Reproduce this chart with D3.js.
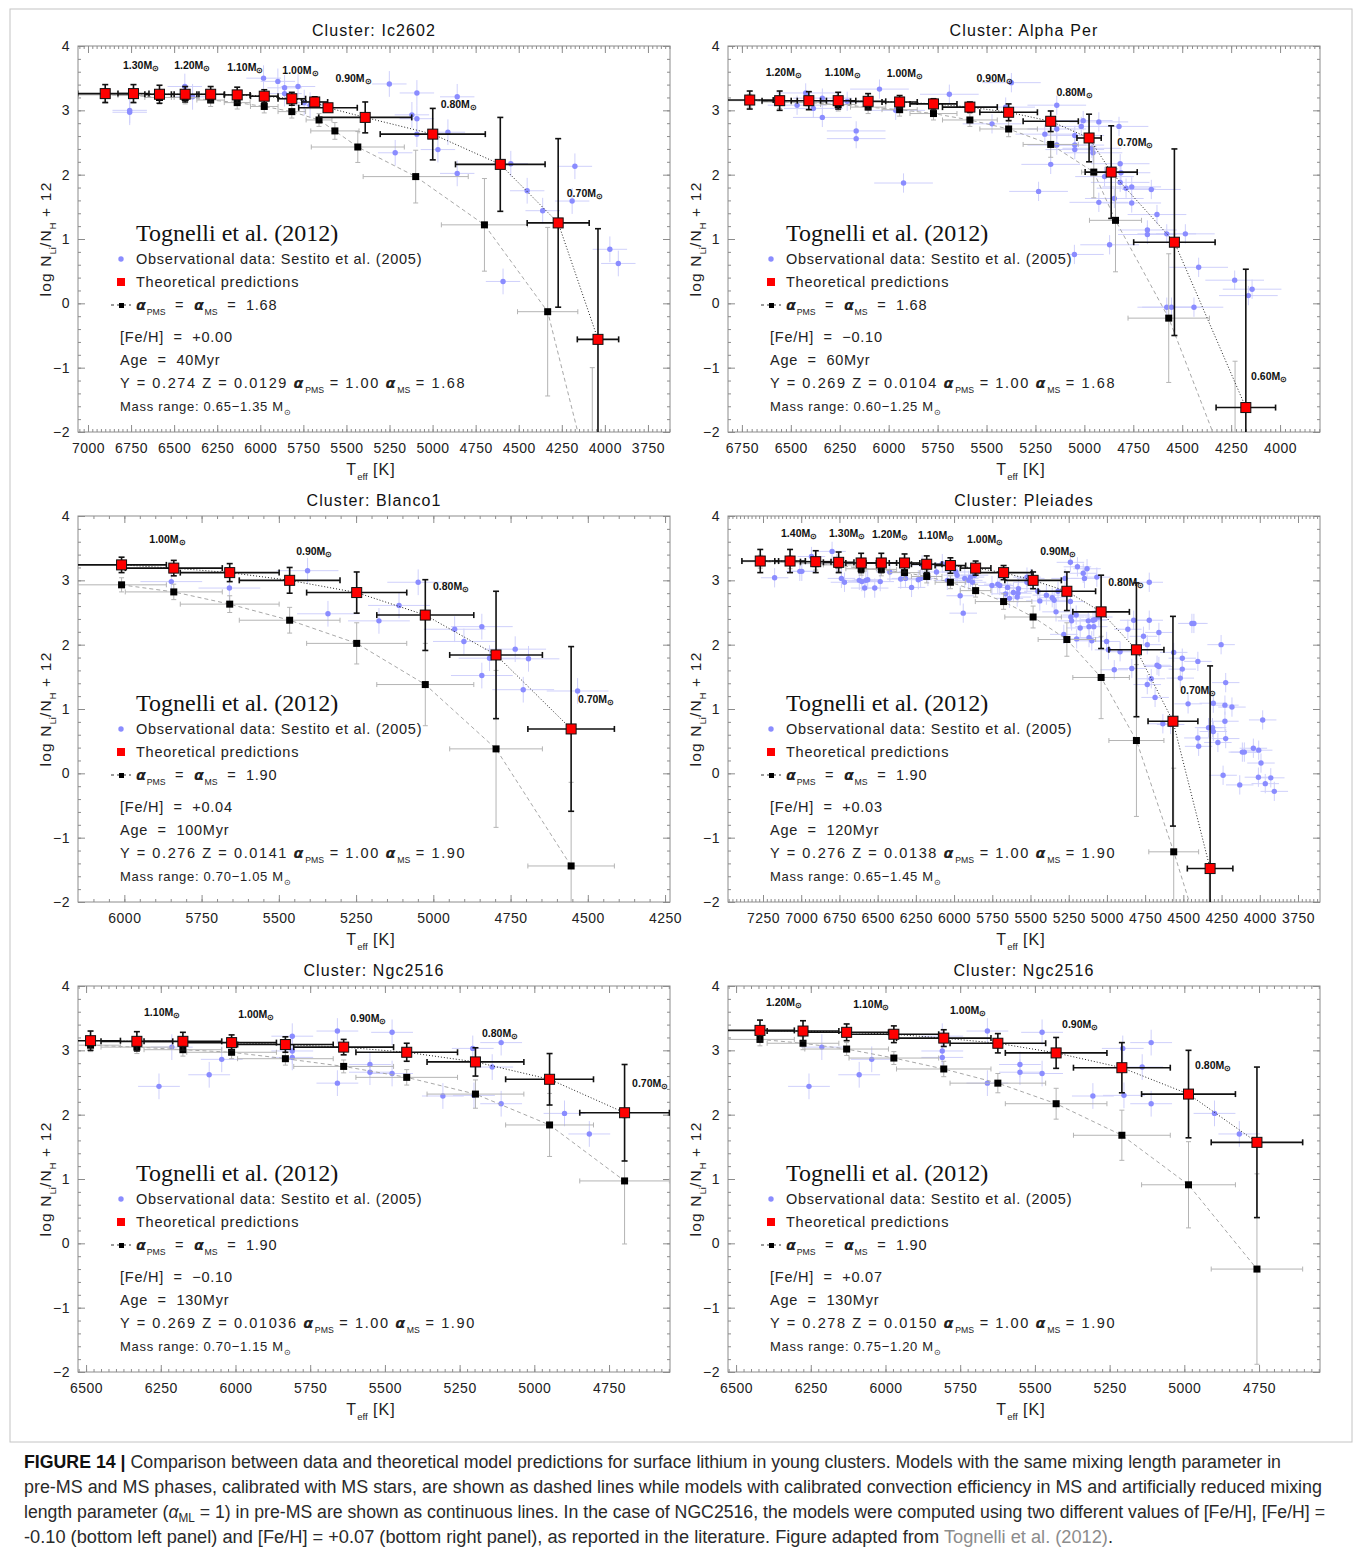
<!DOCTYPE html>
<html>
<head>
<meta charset="utf-8">
<script src="https://cdn.jsdelivr.net/npm/d3@7"></script>
<style>
  body { margin: 0; background: #fff; }
  svg text { font-family: "Liberation Sans", Arial, sans-serif; white-space: pre; }
</style>
</head>
<body>
<svg width="1354" height="1552"></svg>
<script>
// ---- panel texts ----
const clusterNames = ['Cluster: Ic2602', 'Cluster: Alpha Per', 'Cluster: Blanco1', 'Cluster: Pleiades', 'Cluster: Ngc2516', 'Cluster: Ngc2516'];
const alphaMS = ['1.68', '1.68', '1.90', '1.90', '1.90', '1.90'];
const fehText = ['+0.00', '\u22120.10', '+0.04', '+0.03', '\u22120.10', '+0.07'];
const ageText = ['40Myr', '60Myr', '100Myr', '120Myr', '130Myr', '130Myr'];
const yText = ['0.274', '0.269', '0.276', '0.276', '0.269', '0.278'];
const zText = ['0.0129', '0.0104', '0.0141', '0.0138', '0.01036', '0.0150'];
const massRange = ['0.65\u22121.35', '0.60\u22121.25', '0.70\u22121.05', '0.65\u22121.45', '0.70\u22121.15', '0.75\u22121.20'];

// ---- axes ----
const ic2602Ticks = [7000, 6750, 6500, 6250, 6000, 5750, 5500, 5250, 5000, 4750, 4500, 4250, 4000, 3750];
const alphaPerTicks = [6750, 6500, 6250, 6000, 5750, 5500, 5250, 5000, 4750, 4500, 4250, 4000];
const blanco1Ticks = [6000, 5750, 5500, 5250, 5000, 4750, 4500, 4250];
const pleiadesTicks = [7250, 7000, 6750, 6500, 6250, 6000, 5750, 5500, 5250, 5000, 4750, 4500, 4250, 4000, 3750];
const ngcTicks = [6500, 6250, 6000, 5750, 5500, 5250, 5000, 4750];
const yTicks = [4, 3, 2, 1, 0, -1, -2];

// ---- model predictions: [Teff, logN, errTeff, errLogN] ----
const ic2602Red = [
  [6900, 3.26, 160, 0.14], [6736, 3.26, 90, 0.14], [6585, 3.25, 85, 0.14], [6436, 3.25, 80, 0.12],
  [6288, 3.25, 80, 0.12], [6134, 3.24, 75, 0.12], [5977, 3.22, 80, 0.1], [5817, 3.18, 80, 0.1],
  [5684, 3.13, 75, 0.08], [5607, 3.04, 170, 0.06], [5391, 2.89, 270, 0.24], [4999, 2.63, 305, 0.4],
  [4607, 2.16, 260, 0.73], [4271, 1.25, 180, 1.31], [4040, -0.56, 120, 1.72]
];
const ic2602Black = [
  [6900, 3.24, 160, 0.1], [6736, 3.23, 90, 0.1], [6585, 3.2, 85, 0.1], [6436, 3.2, 80, 0.1],
  [6288, 3.16, 80, 0.1], [6134, 3.12, 75, 0.1], [5977, 3.06, 80, 0.1], [5817, 2.98, 80, 0.1],
  [5659, 2.85, 75, 0.1], [5567, 2.68, 140, 0.13], [5434, 2.43, 270, 0.24], [5098, 1.97, 305, 0.41],
  [4699, 1.22, 250, 0.72], [4332, -0.13, 175, 1.31], [4073, -2.9, 120, 1.9]
];
const alphaPerRed = [
  [6710, 3.16, 120, 0.14], [6557, 3.15, 90, 0.15], [6408, 3.15, 90, 0.14], [6258, 3.15, 90, 0.13],
  [6105, 3.14, 90, 0.12], [5944, 3.13, 90, 0.1], [5771, 3.1, 120, 0.08], [5585, 3.05, 140, 0.08],
  [5387, 2.97, 147, 0.13], [5172, 2.83, 141, 0.16], [4976, 2.57, 62, 0.37], [4863, 2.04, 133, 0.72],
  [4540, 0.95, 208, 1.45], [4175, -1.62, 152, 2.15]
];
const alphaPerBlack = [
  [6710, 3.15, 120, 0.1], [6557, 3.13, 90, 0.1], [6408, 3.12, 90, 0.1], [6258, 3.09, 90, 0.1],
  [6105, 3.05, 90, 0.1], [5944, 3.01, 90, 0.1], [5771, 2.95, 120, 0.1], [5585, 2.85, 140, 0.1],
  [5387, 2.71, 147, 0.12], [5172, 2.47, 141, 0.2], [4952, 2.04, 62, 0.4], [4841, 1.29, 133, 0.8],
  [4569, -0.23, 208, 1.0], [4230, -2.9, 152, 2.0]
];
const blanco1Red = [
  [6009, 3.24, 145, 0.12], [5840, 3.19, 157, 0.12], [5659, 3.12, 160, 0.14], [5465, 3.0, 163, 0.2],
  [5248, 2.81, 162, 0.32], [5026, 2.46, 157, 0.55], [4797, 1.84, 150, 0.99], [4554, 0.69, 140, 1.28]
];
const blanco1Black = [
  [6009, 2.93, 145, 0.11], [5840, 2.82, 157, 0.12], [5659, 2.63, 160, 0.13], [5465, 2.38, 163, 0.2],
  [5248, 2.02, 162, 0.32], [5026, 1.38, 157, 0.64], [4797, 0.38, 150, 1.22], [4554, -1.44, 140, 1.3]
];
const pleiadesRed = [
  [7268, 3.3, 120, 0.18], [7073, 3.3, 100, 0.18], [6905, 3.29, 100, 0.17], [6755, 3.28, 100, 0.16],
  [6608, 3.27, 100, 0.15], [6476, 3.27, 100, 0.15], [6324, 3.27, 100, 0.14], [6179, 3.25, 100, 0.13],
  [6024, 3.23, 100, 0.12], [5859, 3.19, 100, 0.11], [5676, 3.12, 185, 0.11], [5483, 3.0, 185, 0.13],
  [5262, 2.83, 188, 0.3], [5038, 2.51, 185, 0.57], [4807, 1.92, 180, 1.04], [4568, 0.81, 163, 1.63],
  [4325, -1.48, 149, 3.15]
];
const pleiadesBlack = [
  [7268, 3.29, 120, 0.1], [7073, 3.28, 100, 0.1], [6905, 3.26, 100, 0.1], [6755, 3.24, 100, 0.1],
  [6608, 3.18, 100, 0.1], [6476, 3.17, 100, 0.1], [6324, 3.12, 100, 0.1], [6179, 3.06, 100, 0.1],
  [6024, 2.97, 100, 0.1], [5859, 2.84, 100, 0.1], [5676, 2.67, 185, 0.12], [5483, 2.43, 185, 0.17],
  [5262, 2.08, 188, 0.26], [5038, 1.49, 185, 0.64], [4807, 0.51, 180, 1.18], [4563, -1.22, 163, 1.3],
  [4330, -3.0, 149, 1.5]
];
const ngcLowRed = [
  [6485, 3.15, 100, 0.15], [6330, 3.14, 120, 0.15], [6176, 3.14, 130, 0.14], [6013, 3.12, 150, 0.12],
  [5833, 3.09, 160, 0.12], [5638, 3.05, 167, 0.12], [5427, 2.97, 170, 0.14], [5197, 2.82, 162, 0.22],
  [4949, 2.55, 147, 0.4], [4698, 2.03, 150, 0.75]
];
const ngcLowBlack = [
  [6485, 3.08, 100, 0.1], [6330, 3.05, 120, 0.1], [6176, 3.01, 130, 0.1], [6013, 2.97, 150, 0.1],
  [5833, 2.87, 160, 0.1], [5638, 2.75, 167, 0.1], [5427, 2.58, 170, 0.12], [5197, 2.32, 162, 0.22],
  [4949, 1.84, 147, 0.49], [4698, 0.97, 150, 0.98]
];
const ngcHighRed = [
  [6420, 3.31, 115, 0.16], [6276, 3.3, 120, 0.16], [6130, 3.28, 140, 0.13], [5972, 3.25, 150, 0.13],
  [5805, 3.19, 158, 0.13], [5624, 3.11, 160, 0.15], [5429, 2.96, 170, 0.24], [5209, 2.73, 162, 0.39],
  [4986, 2.32, 157, 0.68], [4757, 1.57, 153, 1.17]
];
const ngcHighBlack = [
  [6420, 3.17, 115, 0.1], [6276, 3.11, 120, 0.1], [6130, 3.02, 140, 0.1], [5972, 2.88, 150, 0.1],
  [5805, 2.71, 158, 0.12], [5624, 2.49, 160, 0.15], [5429, 2.17, 170, 0.24], [5209, 1.68, 162, 0.39],
  [4986, 0.91, 157, 0.67], [4757, -0.4, 153, 1.48]
];

// ---- observations (Sestito et al. 2005): [Teff, logN] ----
const ic2602Obs = [
  [6758, 2.97], [6758, 3.0], [6438, 3.37], [6393, 3.21], [5981, 3.5], [5898, 3.45], [5859, 3.35],
  [5859, 3.26], [5781, 3.37], [5745, 3.12], [5711, 3.08], [5251, 3.41], [5091, 3.27], [5120, 2.93],
  [5091, 2.87], [5091, 2.63], [4857, 3.21], [4911, 2.66], [4969, 2.39], [5217, 2.34], [4857, 2.02],
  [4546, 2.17], [4451, 1.75], [4361, 1.44], [4174, 2.13], [4190, 1.59], [4591, 0.34], [3971, 0.84],
  [3922, 0.62]
];
const alphaPerObs = [
  [6468, 3.08], [6424, 3.27], [6385, 3.03], [6339, 2.89], [6339, 3.19], [6265, 3.13], [6212, 3.14],
  [6166, 2.68], [6166, 2.56], [6047, 3.33], [5964, 3.0], [5924, 1.87], [5690, 3.25], [5472, 2.79],
  [5402, 3.05], [5373, 3.43], [5234, 1.74], [5202, 2.63], [5172, 2.16], [5141, 3.08], [5141, 2.71],
  [5141, 2.46], [5049, 2.61], [5049, 2.46], [5049, 2.39], [5016, 2.75], [5006, 2.84], [4962, 2.41],
  [4956, 2.34], [4926, 2.82], [4926, 1.57], [4897, 1.97], [4871, 0.91], [4847, 1.63], [4823, 2.75],
  [4817, 2.17], [4813, 2.03], [4817, 1.88], [4787, 1.79], [4758, 1.81], [4758, 1.56], [4658, 1.77],
  [4629, 1.38], [4678, 1.14], [4678, 1.07], [4579, 1.08], [4484, 1.08], [4416, 0.56], [4579, -0.06],
  [4555, -0.06], [4440, -0.06], [4232, 0.36], [4162, 0.12], [4143, 0.22], [5051, 0.76]
];
const blanco1Obs = [
  [5848, 2.98], [5660, 2.88], [5407, 3.15], [5341, 2.48], [5176, 2.37], [5111, 2.61], [5049, 2.97],
  [4931, 2.24], [4901, 2.05], [4843, 2.28], [4843, 1.52], [4818, 1.79], [4735, 1.93], [4692, 1.78],
  [4709, 1.3], [4533, 1.28]
];
const pleiadesObs = [
  [7174, 3.04], [7009, 3.14], [6996, 3.14], [6933, 3.37], [6907, 3.26], [6798, 3.45], [6768, 3.26],
  [6737, 3.03], [6717, 2.97], [6620, 3.0], [6603, 2.98], [6585, 2.88], [6577, 3.0], [6565, 3.01],
  [6519, 2.88], [6483, 2.98], [6420, 3.13], [6349, 3.02], [6318, 3.03], [6278, 2.89], [6234, 3.01],
  [6219, 3.03], [6209, 3.24], [6171, 3.06], [6115, 3.13], [6077, 3.26], [6044, 3.0], [5988, 3.13],
  [5960, 2.76], [5940, 2.49], [5930, 3.03], [5904, 3.0], [5892, 3.05], [5866, 3.08], [5879, 2.97],
  [5980, 3.08], [5752, 2.92], [5714, 2.94], [5701, 2.92], [5663, 2.79], [5650, 2.89], [5638, 2.72],
  [5612, 2.81], [5587, 2.74], [5579, 2.87], [5582, 2.8], [5523, 3.05], [5523, 2.97], [5498, 3.03],
  [5483, 3.0], [5452, 2.83], [5439, 2.68], [5396, 2.77], [5358, 2.73], [5345, 2.69], [5333, 2.51],
  [5320, 2.83], [5274, 3.03], [5282, 2.16], [5239, 3.28], [5239, 2.67], [5236, 2.43], [5231, 2.37],
  [5201, 2.46], [5198, 2.09], [5193, 3.21], [5175, 2.26], [5155, 3.11], [5147, 3.03], [5130, 3.18],
  [5122, 2.37], [5117, 2.28], [5117, 2.11], [5099, 2.06], [5091, 2.38], [5086, 2.28], [5079, 2.39],
  [5066, 3.05], [5053, 2.43], [5002, 2.05], [4990, 1.92], [4952, 1.61], [4914, 1.89], [4863, 2.24],
  [4837, 1.63], [4825, 2.38], [4812, 1.92], [4761, 2.13], [4736, 2.0], [4736, 1.38], [4723, 2.38],
  [4723, 2.97], [4710, 1.47], [4685, 1.18], [4672, 1.68], [4660, 1.66], [4660, 2.19], [4634, 0.77],
  [4583, 0.76], [4563, 1.88], [4520, 1.48], [4507, 1.79], [4507, 1.62], [4469, 1.08], [4444, 2.33],
  [4431, 2.33], [4405, 0.55], [4400, 0.42], [4335, 0.71], [4309, 0.71], [4304, 1.09], [4304, 0.65],
  [4274, 0.48], [4253, 2.0], [4240, -0.03], [4228, 1.06], [4228, 0.81], [4223, 1.41], [4223, 0.54],
  [4182, 1.03], [4131, -0.18], [4114, 0.33], [4101, 0.33], [4042, 0.39], [4007, 0.36], [3992, 0.16],
  [3981, 0.83], [4009, -0.06], [3964, -0.16], [3928, -0.07], [3905, -0.28], [4405, 1.74]
];
const ngc2516Obs = [
  [6256, 2.44], [6213, 3.05], [6088, 2.62], [6046, 2.86], [5810, 3.22], [5810, 2.99], [5810, 2.89],
  [5659, 3.3], [5659, 2.49], [5550, 2.78], [5550, 2.66], [5476, 3.28], [5476, 2.64], [5306, 2.29],
  [5206, 3.03], [5202, 2.3], [5141, 2.74], [5111, 3.12], [5111, 2.17], [4899, 2.02], [4816, 1.7]
];
// typical observational errors per cluster: [errTeff, errLogN]
const obsErrors = [[100, 0.2], [150, 0.15], [100, 0.2], [90, 0.15], [70, 0.2], [70, 0.2]];

// ---- mass labels: [mass, Teff, logN] ----
const ic2602Labels = [['1.30', 6797, 3.70], ['1.20', 6500, 3.70], ['1.10', 6192, 3.67], ['1.00', 5872, 3.63], ['0.90', 5564, 3.50], ['0.80', 4953, 3.10], ['0.70', 4221, 1.71]];
const alphaPerLabels = [['1.20', 6628, 3.6], ['1.10', 6327, 3.6], ['1.00', 6010, 3.58], ['0.90', 5551, 3.5], ['0.80', 5143, 3.28], ['0.70', 4832, 2.51], ['0.60', 4148, -1.13]];
const blanco1Labels = [['1.00', 5919, 3.64], ['0.90', 5444, 3.46], ['0.80', 5001, 2.91], ['0.70', 4532, 1.15]];
const pleiadesLabels = [['1.40', 7132, 3.74], ['1.30', 6818, 3.74], ['1.20', 6537, 3.72], ['1.10', 6236, 3.70], ['1.00', 5915, 3.64], ['0.90', 5437, 3.46], ['0.80', 4992, 2.97], ['0.70', 4521, 1.29]];
const ngcLowLabels = [['1.10', 6306, 3.6], ['1.00', 5991, 3.57], ['0.90', 5616, 3.5], ['0.80', 5175, 3.27], ['0.70', 4673, 2.49]];
const ngcHighLabels = [['1.20', 6400, 3.75], ['1.10', 6108, 3.72], ['1.00', 5784, 3.63], ['0.90', 5409, 3.41], ['0.80', 4964, 2.77]];

// ---- layout ----
const svg = d3.select('svg');
const WIDTH = 592;
const HEIGHT = 386;
const COLS = [78, 728];
const ROWS = [46, 516, 986];
const BLUE = '#8a8cff';
const BLUE_ERR = '#cfd0fb';
const GREY_ERR = '#b4b4b4';

svg.append('rect').attr('width', 1354).attr('height', 1552).attr('fill', '#fff');
svg.append('rect')
  .attr('x', 10).attr('y', 9).attr('width', 1342).attr('height', 1433)
  .attr('fill', 'none').attr('stroke', '#c4c4c4');

const panels = [
  { domain: [7058, 3622], ticks: ic2602Ticks, minor: 25, red: ic2602Red, black: ic2602Black, obs: ic2602Obs, labels: ic2602Labels },
  { domain: [6821, 3796], ticks: alphaPerTicks, minor: 25, red: alphaPerRed, black: alphaPerBlack, obs: alphaPerObs, labels: alphaPerLabels },
  { domain: [6150, 4234], ticks: blanco1Ticks, minor: 50, red: blanco1Red, black: blanco1Black, obs: blanco1Obs, labels: blanco1Labels },
  { domain: [7479, 3606], ticks: pleiadesTicks, minor: 25, red: pleiadesRed, black: pleiadesBlack, obs: pleiadesObs, labels: pleiadesLabels },
  { domain: [6527, 4546], ticks: ngcTicks, minor: 25, red: ngcLowRed, black: ngcLowBlack, obs: ngc2516Obs, labels: ngcLowLabels },
  { domain: [6527, 4546], ticks: ngcTicks, minor: 25, red: ngcHighRed, black: ngcHighBlack, obs: ngc2516Obs, labels: ngcHighLabels }
];

// text with sub-scripts / bold alphas: parts = [{t, sub, b}]
function richText(g, x, y, parts, size, spacing = 0.75) {
  const t = g.append('text').attr('x', x).attr('y', y)
    .style('font-size', size + 'px').style('letter-spacing', spacing + 'px').attr('fill', '#222');
  let shift = 0;
  parts.forEach(p => {
    const want = p.sub ? size * 0.32 : 0;
    const s = t.append('tspan').attr('dy', want - shift).text(p.t);
    shift = want;
    if (p.sub) s.style('font-size', (size * 0.6) + 'px').style('letter-spacing', '0px');
    if (p.b) s.style('font-weight', 'bold').style('font-family', 'DejaVu Sans').style('font-style', 'italic');
  });
  return t;
}

function errorBars(g, data, x, y, color, width, cap) {
  const bars = g.append('g').attr('stroke', color).attr('stroke-width', width).attr('fill', 'none');
  data.forEach(d => {
    const cx = x(d[0]), cy = y(d[1]);
    const x1 = x(d[0] + d[2]), x2 = x(d[0] - d[2]);
    const y1 = y(d[1] + d[3]), y2 = y(d[1] - d[3]);
    bars.append('line').attr('x1', x1).attr('x2', x2).attr('y1', cy).attr('y2', cy);
    bars.append('line').attr('x1', cx).attr('x2', cx).attr('y1', y1).attr('y2', y2);
    if (cap > 0) {
      [x1, x2].forEach(px => bars.append('line').attr('x1', px).attr('x2', px).attr('y1', cy - cap).attr('y2', cy + cap));
      [y1, y2].forEach(py => bars.append('line').attr('x1', cx - cap).attr('x2', cx + cap).attr('y1', py).attr('y2', py));
    }
  });
}

panels.forEach((p, i) => {
  const x0 = COLS[i % 2];
  const y0 = ROWS[Math.floor(i / 2)];
  const g = svg.append('g').attr('transform', `translate(${x0}, ${y0})`);

  const x = d3.scaleLinear().domain(p.domain).range([0, WIDTH]);
  const y = d3.scaleLinear().domain([-2, 4]).range([HEIGHT, 0]);

  const clipId = 'clip' + i;
  g.append('clipPath').attr('id', clipId)
    .append('rect').attr('width', WIDTH).attr('height', HEIGHT);

  // axes: ticks inside on all four sides
  const lo = Math.min(...p.domain), hi = Math.max(...p.domain);
  const minorX = d3.range(Math.ceil(lo / p.minor) * p.minor, hi, p.minor);
  const minorY = d3.range(-2, 4.001, 0.2);
  const axisStyle = sel => {
    sel.select('.domain').remove();
    sel.selectAll('line').attr('stroke', '#8c8c8c');
    sel.selectAll('text').attr('fill', '#222').style('font-size', '14px').style('letter-spacing', '0.5px');
  };
  g.append('g').attr('transform', `translate(0, ${HEIGHT})`)
    .call(d3.axisBottom(x).tickValues(minorX).tickSize(-3).tickFormat('')).call(axisStyle);
  g.append('g').attr('transform', `translate(0, ${HEIGHT})`)
    .call(d3.axisBottom(x).tickValues(p.ticks).tickSize(-7).tickPadding(11).tickFormat(d3.format('d'))).call(axisStyle);
  g.append('g').call(d3.axisTop(x).tickValues(minorX).tickSize(-3).tickFormat('')).call(axisStyle);
  g.append('g').call(d3.axisTop(x).tickValues(p.ticks).tickSize(-7).tickFormat('')).call(axisStyle);
  g.append('g').call(d3.axisLeft(y).tickValues(minorY).tickSize(-3).tickFormat('')).call(axisStyle);
  g.append('g').call(d3.axisLeft(y).tickValues(yTicks).tickSize(-7).tickPadding(8).tickFormat(d3.format('d'))).call(axisStyle);
  g.append('g').attr('transform', `translate(${WIDTH}, 0)`)
    .call(d3.axisRight(y).tickValues(minorY).tickSize(-3).tickFormat('')).call(axisStyle);
  g.append('g').attr('transform', `translate(${WIDTH}, 0)`)
    .call(d3.axisRight(y).tickValues(yTicks).tickSize(-7).tickFormat('')).call(axisStyle);

  g.append('rect').attr('width', WIDTH).attr('height', HEIGHT)
    .attr('fill', 'none').attr('stroke', '#8c8c8c');

  // titles
  g.append('text').attr('x', WIDTH / 2).attr('y', -10).attr('text-anchor', 'middle')
    .style('font-size', '16px').style('letter-spacing', '1.1px').attr('fill', '#111')
    .text(clusterNames[i]);
  richText(g, 0, HEIGHT + 43, [{ t: 'T' }, { t: 'eff', sub: 1 }, { t: ' [K]' }], 16, 1)
    .attr('x', null).attr('text-anchor', 'middle').attr('transform', `translate(${WIDTH / 2 - 3}, 0)`);
  richText(g, 0, 0,
    [{ t: 'log N' }, { t: 'Li', sub: 1 }, { t: '/N' }, { t: 'H', sub: 1 }, { t: ' + 12' }], 15.5, 1.2)
    .attr('text-anchor', 'middle')
    .attr('transform', `translate(${-27}, ${HEIGHT / 2}) rotate(-90)`);

  // data
  const plot = g.append('g').attr('clip-path', `url(#${clipId})`);

  const obsErr = obsErrors[i];
  const obsRows = p.obs.map(d => [d[0], d[1], obsErr[0], obsErr[1]]);
  errorBars(plot, obsRows, x, y, BLUE_ERR, 1, 0);
  plot.append('g').selectAll('circle').data(p.obs).join('circle')
    .attr('cx', d => x(d[0])).attr('cy', d => y(d[1])).attr('r', 2.7).attr('fill', BLUE);

  const line = d3.line().x(d => x(d[0])).y(d => y(d[1]));
  plot.append('path').attr('d', line(p.black)).attr('fill', 'none')
    .attr('stroke', '#a8a8a8').attr('stroke-width', 1).attr('stroke-dasharray', '4,3');
  errorBars(plot, p.black, x, y, GREY_ERR, 1, 2.5);
  plot.append('g').selectAll('rect').data(p.black).join('rect')
    .attr('x', d => x(d[0]) - 3.5).attr('y', d => y(d[1]) - 3.5)
    .attr('width', 7).attr('height', 7).attr('fill', '#000');

  plot.append('path').attr('d', line(p.red)).attr('fill', 'none')
    .attr('stroke', '#222').attr('stroke-width', 1).attr('stroke-dasharray', '1,2');
  errorBars(plot, p.red, x, y, '#111', 1.6, 3);
  plot.append('g').selectAll('rect').data(p.red).join('rect')
    .attr('x', d => x(d[0]) - 5).attr('y', d => y(d[1]) - 5)
    .attr('width', 10).attr('height', 10).attr('fill', '#f00')
    .attr('stroke', '#111').attr('stroke-width', 1);

  // mass labels
  p.labels.forEach(l => {
    const t = g.append('text').attr('x', x(l[1])).attr('y', y(l[2]) + 4)
      .style('font-size', '10.5px').style('font-weight', 'bold').attr('fill', '#111');
    t.append('tspan').text(l[0] + 'M');
    t.append('tspan').attr('dy', 2).style('font-size', '8px').text('\u2299');
  });

  // legend
  const lg = g.append('g');
  lg.append('text').attr('x', 58).attr('y', 195)
    .style('font-family', '"Liberation Serif", "Times New Roman", serif')
    .style('font-size', '24px').attr('fill', '#111').text('Tognelli et al. (2012)');
  lg.append('circle').attr('cx', 43).attr('cy', 213).attr('r', 2.7).attr('fill', BLUE);
  richText(lg, 58, 218, [{ t: 'Observational data: Sestito et al. (2005)' }], 14.5);
  lg.append('rect').attr('x', 39).attr('y', 232).attr('width', 8).attr('height', 8).attr('fill', '#f00');
  richText(lg, 58, 241, [{ t: 'Theoretical predictions' }], 14.5);
  lg.append('line').attr('x1', 33).attr('x2', 53).attr('y1', 259).attr('y2', 259)
    .attr('stroke', '#333').attr('stroke-dasharray', '3,3');
  lg.append('rect').attr('x', 41).attr('y', 257).attr('width', 5).attr('height', 5).attr('fill', '#000');
  richText(lg, 58, 264, [{ t: '\u03b1', b: 1 }, { t: 'PMS', sub: 1 }, { t: '  =  ' }, { t: '\u03b1', b: 1 }, { t: 'MS', sub: 1 }, { t: '  =  ' + alphaMS[i] }], 14.5);
  richText(lg, 42, 296, [{ t: '[Fe/H]  =  ' + fehText[i] }], 14.5);
  richText(lg, 42, 319, [{ t: 'Age  =  ' + ageText[i] }], 14.5);
  richText(lg, 42, 342, [
    { t: 'Y = ' + yText[i] + ' Z = ' + zText[i] + ' ' }, { t: '\u03b1', b: 1 }, { t: 'PMS', sub: 1 },
    { t: ' = 1.00 ' }, { t: '\u03b1', b: 1 }, { t: 'MS', sub: 1 }, { t: ' = ' + alphaMS[i] }
  ], 14.5, 1.6);
  richText(lg, 42, 365, [{ t: 'Mass range: ' + massRange[i] + ' M' }, { t: '\u2299', sub: 1 }], 13, 0.7);
});

// ---- caption ----
const cap = svg.append('g').attr('fill', '#2a2a2a')
  .style('font-family', '"Liberation Sans", Arial, sans-serif').style('font-size', '18px');
const capLines = [
  { y: 1468, w: 1257, parts: [{ t: 'FIGURE 14 | ', b: 1 }, { t: 'Comparison between data and theoretical model predictions for surface lithium in young clusters. Models with the same mixing length parameter in' }] },
  { y: 1493, w: 1298, parts: [{ t: 'pre-MS and MS phases, calibrated with MS stars, are shown as dashed lines while models with calibrated convection efficiency in MS and artificially reduced mixing' }] },
  { y: 1518, w: 1301, parts: [{ t: 'length parameter (' }, { t: '\u03b1', i: 1 }, { t: 'ML', sub: 1 }, { t: ' = 1) in pre-MS are shown as continuous lines. In the case of NGC2516, the models were computed using two different values of [Fe/H], [Fe/H] =' }] },
  { y: 1543, w: 1089, parts: [{ t: '-0.10 (bottom left panel) and [Fe/H] = +0.07 (bottom right panel), as reported in the literature. Figure adapted from ' }, { t: 'Tognelli et al. (2012)', grey: 1 }, { t: '.' }] }
];
capLines.forEach(l => {
  const t = cap.append('text').attr('x', 24).attr('y', l.y)
    .attr('textLength', l.w).attr('lengthAdjust', 'spacingAndGlyphs');
  let shift = 0;
  l.parts.forEach(p => {
    const want = p.sub ? 4 : 0;
    const s = t.append('tspan').attr('dy', want - shift).text(p.t);
    shift = want;
    if (p.b) s.style('font-weight', 'bold').attr('fill', '#111');
    if (p.i) s.style('font-style', 'italic');
    if (p.sub) s.style('font-size', '12px');
    if (p.grey) s.attr('fill', '#8c8c8c');
  });
});
</script>
</body>
</html>
